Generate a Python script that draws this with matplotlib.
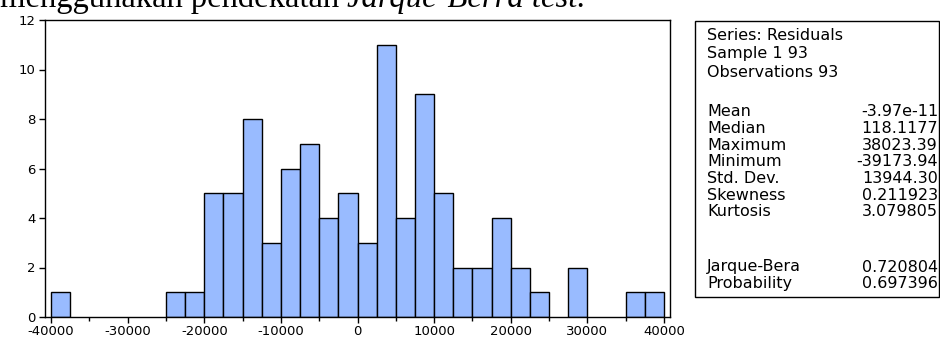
import matplotlib
matplotlib.use("Agg")
import matplotlib.pyplot as plt
import numpy as np

# histogram of residuals, bins of 2500
bin_start = -40000
bin_width = 2500
counts = [1, 0, 0, 0, 0, 0, 1, 1, 5, 5, 8, 3, 6, 7, 4, 5,
          3, 11, 4, 9, 5, 2, 2, 4, 2, 1, 0, 2, 0, 0, 1, 1]

header = ["Series: Residuals", "Sample 1 93", "Observations 93"]
stat_labels = ["Mean", "Median", "Maximum", "Minimum", "Std. Dev.",
               "Skewness", "Kurtosis"]
stat_values = ["-3.97e-11", "118.1177", "38023.39", "-39173.94", "13944.30",
               "0.211923", "3.079805"]
jb_labels = ["Jarque-Bera", "Probability"]
jb_values = ["0.720804", "0.697396"]

W, H = 940, 340
plt.rcParams['font.family'] = ['DejaVu Sans']
plt.rcParams['axes.unicode_minus'] = False
fig = plt.figure(figsize=(9.4, 3.4), dpi=100)

# cut-off caption line from the document page above the chart
base = 1 - 7 / H
t1 = fig.text(0, base, "menggunakan pendekatan ", family="Liberation Serif",
              fontsize=23.5, va="baseline", ha="left")
fig.canvas.draw()
r = t1.get_window_extent()
fig.text(r.x1 / W, base, "Jarque-Berra test.", family="Liberation Serif",
         style="italic", fontsize=23.5, va="baseline", ha="left")

ax = fig.add_axes([45 / W, (H - 317) / H, (670 - 45) / W, (317 - 20) / H])
edges = bin_start + bin_width * np.arange(len(counts))
c = np.array(counts)
m = c > 0
ax.bar(edges[m], c[m], width=bin_width, align="edge", color="#99bbff",
       edgecolor="black", linewidth=1.0)

ax.set_xlim(-40800, 40800)
ax.set_ylim(0, 12)
ax.set_yticks(range(0, 13, 2))
ax.set_xticks(range(-40000, 40001, 10000))
ax.set_xticks(range(-35000, 40000, 10000), minor=True)
ax.tick_params(axis="both", which="major", direction="out", labelsize=9.5,
               length=4.5, width=1.0, pad=2.5)
ax.tick_params(axis="x", which="major", pad=1.5)
ax.tick_params(axis="x", which="minor", direction="out", length=3, width=1.0)
for s in ax.spines.values():
    s.set_linewidth(1.0)

# statistics box
bx0, bx1, by0, by1 = 695, 939, 21, 297
fig.patches.append(plt.Rectangle((bx0 / W, 1 - by1 / H), (bx1 - bx0) / W,
                                 (by1 - by0) / H, transform=fig.transFigure,
                                 fill=False, edgecolor="black", linewidth=1.0))
lx = 707 / W
vx = 938 / W
fs = 11.5
for i, s in enumerate(header):
    fig.text(lx, 1 - (35 + i * 18.7) / H, s, fontsize=fs, va="center")
for i, (a, b) in enumerate(zip(stat_labels, stat_values)):
    y = 1 - (112 + i * 16.6) / H
    fig.text(lx, y, a, fontsize=fs, va="center")
    fig.text(vx, y, b, fontsize=fs, va="center", ha="right")
for i, (a, b) in enumerate(zip(jb_labels, jb_values)):
    y = 1 - (267 + i * 16.6) / H
    fig.text(lx, y, a, fontsize=fs, va="center")
    fig.text(vx, y, b, fontsize=fs, va="center", ha="right")

fig.savefig("out.png", dpi=100)
